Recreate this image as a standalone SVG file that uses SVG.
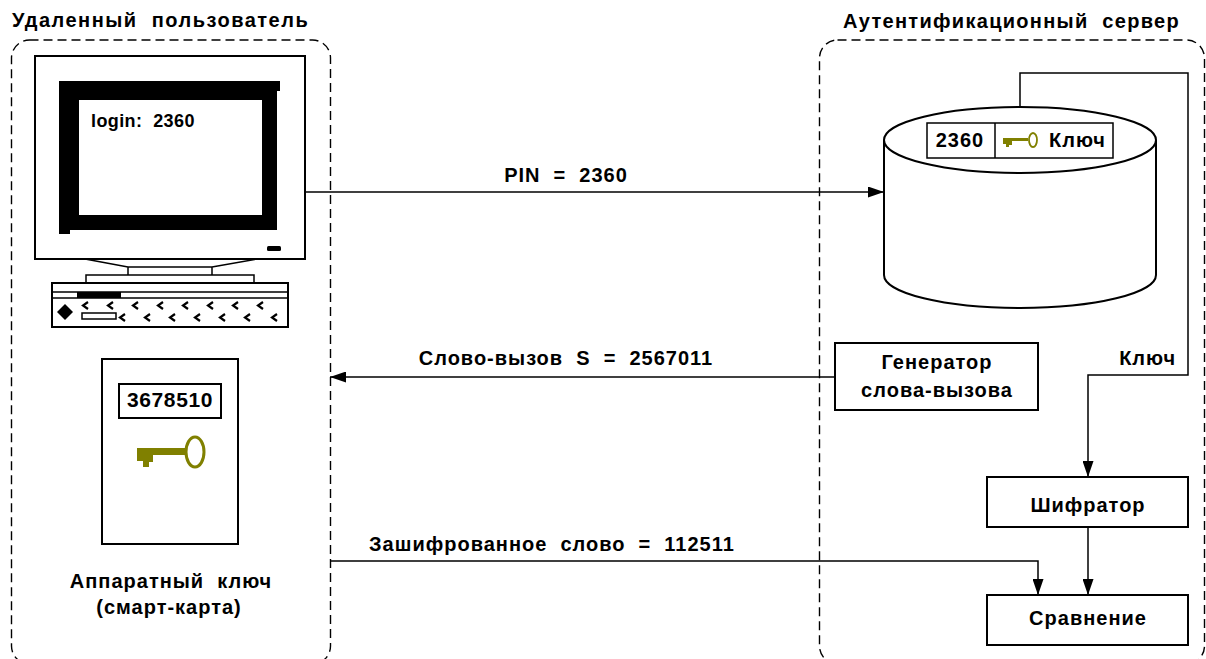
<svg xmlns="http://www.w3.org/2000/svg" width="1206" height="659" viewBox="0 0 1206 659" xml:space="preserve">
  <style>
    .t { font-family: "Liberation Sans", Arial, sans-serif; font-weight: bold; font-size: 20px; letter-spacing: 1px; fill: #000; white-space: pre; }
    .mid { text-anchor: middle; }
    .zone { fill: none; stroke: #000; stroke-width: 1.4; stroke-dasharray: 9 5; }
    .box { fill: #fff; stroke: #000; stroke-width: 2; }
    .thin { fill: none; stroke: #000; stroke-width: 1.5; }
    .wire { fill: none; stroke: #000; stroke-width: 1.5; }
    .key { fill: #808000; stroke: none; }
    .ring { fill: #fff; stroke: #808000; }
    .chev { fill: none; stroke: #000; stroke-width: 2.2; }
  </style>
  <defs>
    <marker id="arrow" viewBox="0 0 16 11" refX="16" refY="5.5" markerWidth="16" markerHeight="11" markerUnits="userSpaceOnUse" orient="auto">
      <path d="M0,0 L16,5.5 L0,11 Z" fill="#000"/>
    </marker>
  </defs>
  <rect width="1206" height="659" fill="#fff"/>

  <!-- zones -->
  <g id="zone-user">
    <rect class="zone" x="11.5" y="40" width="319" height="624" rx="18"/>
    <text class="t" x="12" y="27" style="letter-spacing:1.5px">Удаленный  пользователь</text>
  </g>
  <g id="zone-server">
    <rect class="zone" x="819.5" y="40" width="385" height="624" rx="18"/>
    <text class="t" x="843" y="28" style="letter-spacing:1.3px">Аутентификационный  сервер</text>
  </g>

  <!-- workstation -->
  <g id="computer">
    <rect class="box" x="35" y="56" width="270" height="203"/>
    <path d="M59,81 H280 V91 H277 V230 H70 V234 H59 Z" fill="#000"/>
    <rect x="79" y="100" width="183" height="115" fill="#fff"/>
    <text class="t" x="91" y="127" style="font-size:18px;letter-spacing:0.4px">login:  2360</text>
    <rect x="267" y="246" width="14" height="5" rx="1.5" fill="#000"/>
    <path class="thin" d="M85,259 L128,267 H212 L257,259 M128,267 V275 M212,267 V275"/>
    <rect class="thin" x="86" y="275" width="168" height="8"/>
    <rect class="box" x="52" y="283" width="236" height="44"/>
    <path class="thin" d="M52,292 H288 M52,298 H288"/>
    <rect x="77" y="292" width="44" height="6" fill="#000"/>
    <path d="M65,304 L73,312 L65,320 L57,312 Z" fill="#000"/>
    <rect class="thin" x="82" y="313" width="34" height="6"/>
    <g class="chev">
      <polyline points="88,302 83,305.5 88,309"/>
      <polyline points="113,302 108,305.5 113,309"/>
      <polyline points="138,302 133,305.5 138,309"/>
      <polyline points="163,302 158,305.5 163,309"/>
      <polyline points="188,302 183,305.5 188,309"/>
      <polyline points="213,302 208,305.5 213,309"/>
      <polyline points="238,302 233,305.5 238,309"/>
      <polyline points="263,302 258,305.5 263,309"/>
      <polyline points="125,314 120,317.5 125,321"/>
      <polyline points="150,314 145,317.5 150,321"/>
      <polyline points="175,314 170,317.5 175,321"/>
      <polyline points="200,314 195,317.5 200,321"/>
      <polyline points="225,314 220,317.5 225,321"/>
      <polyline points="250,314 245,317.5 250,321"/>
      <polyline points="277,314 272,317.5 277,321"/>
    </g>
  </g>

  <!-- hardware token -->
  <g id="smart-card">
    <rect class="box" x="102" y="359" width="136" height="185"/>
    <rect class="box" x="119" y="384" width="102" height="34"/>
    <text class="t mid" x="170" y="407" style="font-size:21px;letter-spacing:0.6px">3678510</text>
    <path class="key" d="M137,448 H187 V455 H153 V462 H149 V467 H143 V461 H137 Z"/>
    <ellipse class="ring" cx="195" cy="452" rx="9" ry="15" stroke-width="3"/>
    <text class="t mid" x="171" y="588">Аппаратный  ключ</text>
    <text class="t mid" x="169" y="614">(смарт-карта)</text>
  </g>

  <!-- user database -->
  <g id="database">
    <path class="box" d="M884,140 V275 A136,33 0 0 0 1156,275 V140"/>
    <ellipse class="box" cx="1020" cy="140" rx="136" ry="33"/>
    <rect class="thin" x="927" y="123" width="186" height="35" fill="#fff" stroke-width="1.3"/>
    <line class="thin" x1="995" y1="123" x2="995" y2="158" stroke-width="1.3"/>
    <text class="t mid" x="960" y="147">2360</text>
    <path class="key" d="M1003,138 H1028 V141 H1012 V145 H1009 V147 H1006 V144 H1003 Z"/>
    <ellipse class="ring" cx="1033" cy="140" rx="4" ry="7" stroke-width="1.8"/>
    <text class="t" x="1049" y="147">Ключ</text>
  </g>

  <g id="generator">
    <rect class="box" x="835" y="343" width="203" height="67"/>
    <text class="t mid" x="937" y="369">Генератор</text>
    <text class="t mid" x="937" y="397">слова-вызова</text>
  </g>

  <g id="encryptor">
    <rect class="box" x="987" y="477" width="201" height="50"/>
    <text class="t mid" x="1088" y="512">Шифратор</text>
  </g>

  <g id="comparator">
    <rect class="box" x="987" y="595" width="201" height="50"/>
    <text class="t mid" x="1088" y="625">Сравнение</text>
  </g>

  <!-- connectors -->
  <g id="connectors">
    <path class="wire" d="M305,192 H884" marker-end="url(#arrow)"/>
    <text class="t mid" x="566" y="182">PIN  =  2360</text>

    <path class="wire" d="M835,377 H330" marker-end="url(#arrow)"/>
    <text class="t mid" x="566" y="365">Слово-вызов  S  =  2567011</text>

    <path class="wire" d="M330,561 H1038 V595" marker-end="url(#arrow)"/>
    <text class="t mid" x="552" y="551">Зашифрованное  слово  =  112511</text>

    <path class="wire" d="M1020,107 V73 H1188 V375 H1088 V477" marker-end="url(#arrow)"/>
    <text class="t" x="1176" y="365" text-anchor="end">Ключ</text>

    <path class="wire" d="M1088,527 V595" marker-end="url(#arrow)"/>
  </g>
</svg>
